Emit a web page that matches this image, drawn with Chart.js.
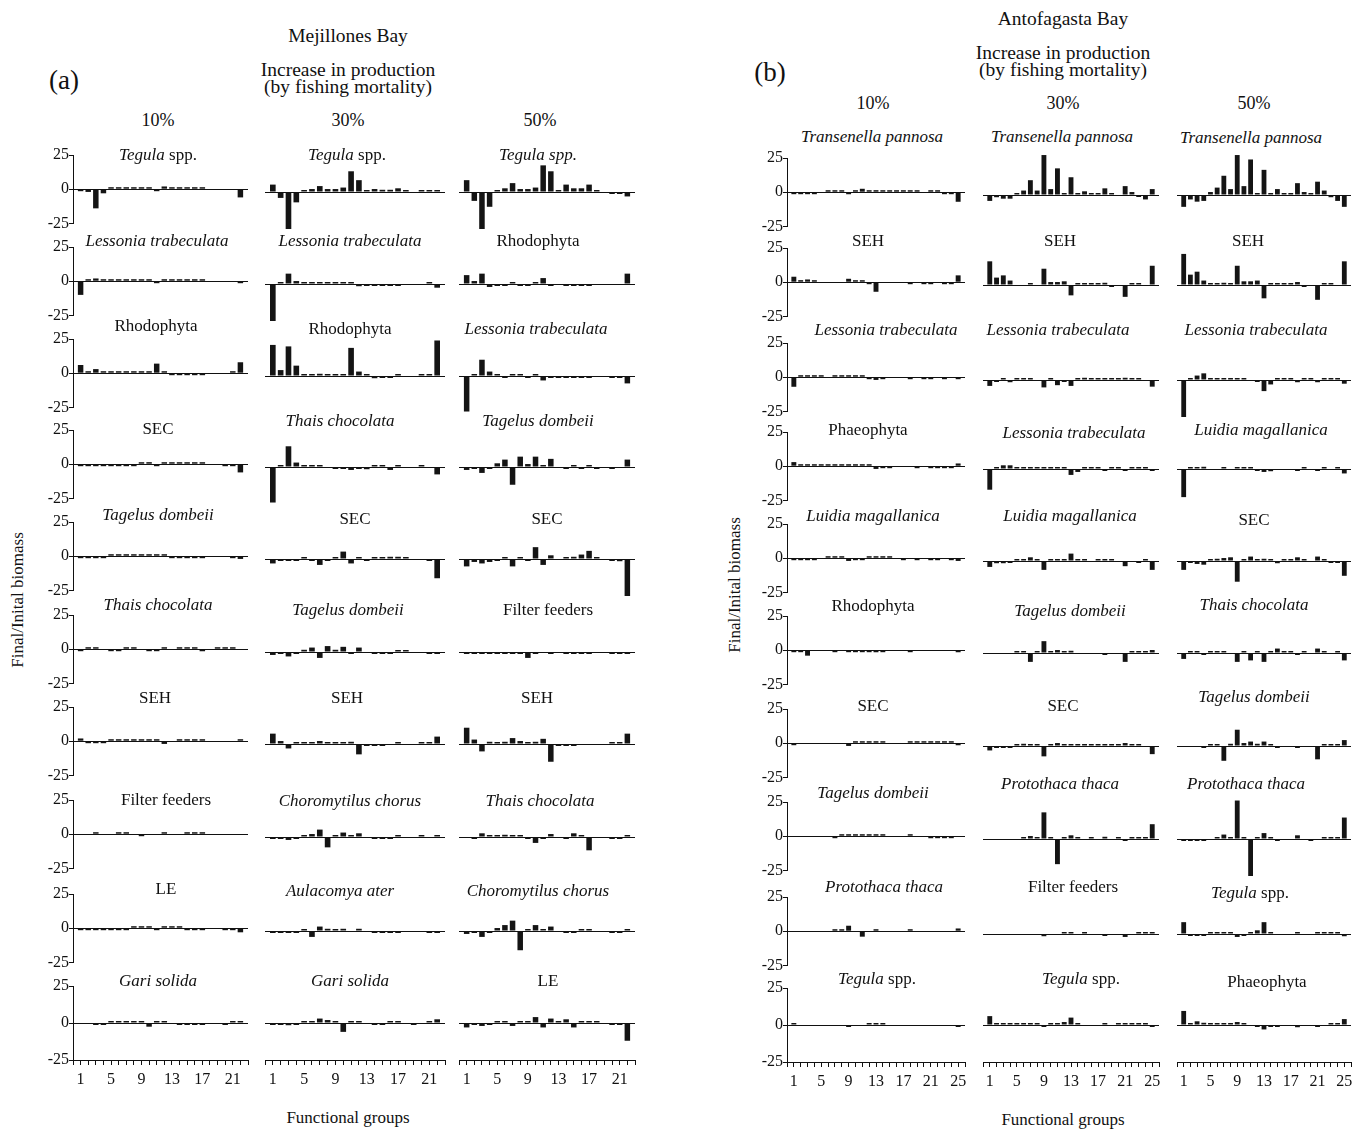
<!DOCTYPE html>
<html>
<head>
<meta charset="utf-8">
<script src="https://cdn.jsdelivr.net/npm/chart.js@4.4.1/dist/chart.umd.min.js"></script>
<style>
body { margin: 0; background: #fff; }
#page { position: relative; width: 1365px; height: 1129px; overflow: hidden; font-family: 'Liberation Serif', 'Times New Roman', serif; color: #111; }
#page canvas { position: absolute; }
.t { position: absolute; transform: translate(-50%, -50%); white-space: nowrap; z-index: 2; }
.sub { font-size: 17px; }
.hd { font-size: 19.5px; text-align: center; line-height: 17px; }
.pc { font-size: 18px; }
.lab { font-size: 27px; }
.ax { font-size: 17px; }
.rot { transform: translate(-50%, -50%) rotate(-90deg); }
</style>
</head>
<body>
<div id="page"></div>
<script>
// Mejillones Bay (a), 22 functional groups
const mej10Titles = ['<i>Tegula</i> spp.', '<i>Lessonia trabeculata</i>', 'Rhodophyta', 'SEC', '<i>Tagelus dombeii</i>',
	'<i>Thais chocolata</i>', 'SEH', 'Filter feeders', 'LE', '<i>Gari solida</i>'];
const mej10 = [
	[-1, -2, -14, -3, 0.5, 0.5, 0.5, 0.5, 0.5, 0.5, -1, 2, 0.5, 0.5, 0.5, 0.5, 0.5, 0, 0, 0, 0, -6],
	[-10, 0.5, 2, 0.5, 0.5, 0.5, 0.5, 0.5, 0.5, 0.5, -0.5, 0.5, 0.5, 0.5, 0.5, 0.5, 0.5, 0, 0, 0, 0, -1],
	[6, 1, 3, 1, 0.5, 0.5, 0.5, 0.5, 0.5, 0.5, 7, 1, -0.5, -0.5, -0.5, -0.5, -0.5, 0, 0, 0, 0.5, 8],
	[-1, -0.5, -0.5, -0.5, -0.5, -0.5, -1, -0.5, 0.5, 1.5, -1, 0.5, 0.5, 0.5, 0.5, 1, 0.5, 0, 0, -0.5, -0.5, -6],
	[-0.5, -0.5, -1, -0.5, 0.5, 0.5, 0.5, 1, 0.5, 1, 0.5, 0.5, -0.5, -0.5, -0.5, -0.5, -0.5, 0, 0, 0, -0.5, -2],
	[-0.5, 0.5, 0.5, 0, -0.5, -0.5, 0.5, 0.5, 0, -1, -0.5, 0.5, 0, 0.5, 0.5, 0.5, -1.5, 0, 0.5, 0.5, 0.5, 0],
	[2, -0.5, -1, -0.5, 0.5, 0.5, 0.5, 0.5, 0.5, 0.5, 0.5, -2, 0, 0.5, 0.5, 0.5, 0.5, 0, 0, 0, 0, 0.5],
	[0, 0, 0.5, 0, 0, 0.5, 0.5, 0, -0.5, 0, 0, 0.5, 0, 0, 0.5, 0.5, 0.5, 0, 0, 0, 0, 0],
	[-0.5, -0.5, -0.5, -0.5, -0.5, -0.5, -0.5, 0.5, 0.5, 1, -0.5, 0.5, 0.5, 0.5, -0.5, -0.5, -0.5, 0, 0, -0.5, -0.5, -3],
	[0, 0, -0.5, -0.5, 0.5, 0.5, 1, 0.5, 0.5, -2.5, 0.5, 0.5, 0, -0.5, -0.5, -0.5, -0.5, 0, 0, -0.5, 0.5, 0.5],
];
const mej30Titles = ['<i>Tegula</i> spp.', '<i>Lessonia trabeculata</i>', 'Rhodophyta', '<i>Thais chocolata</i>', 'SEC',
	'<i>Tagelus dombeii</i>', 'SEH', '<i>Choromytilus chorus</i>', '<i>Aulacomya ater</i>', '<i>Gari solida</i>'];
const mej30 = [
	[5, -4, -25, -7, 0.5, 2, 4, 2, 2, 3, 14, 8, 0.5, 2, 1.5, 1.5, 2.5, 0.5, 0, 0.5, 0.5, 0.5],
	[-25, 1, 7, 2, 0.5, 0.5, 0.5, 0.5, 0.5, 0.5, 0.5, -1.5, -0.5, -0.5, -0.5, -0.5, -0.5, 0, 0, 0, 0.5, -2.5],
	[21, 4, 20, 7, 1, 1, 1.5, 1, 0.5, 1, 19, 3, 0.5, -1.5, -1, -0.5, 0.5, 0, 0, 0.5, 0.5, 24],
	[-24, 1, 14, 3, 1, 0.5, 0.5, 0, -1, -0.5, -2, -0.5, -1.5, 0.5, 0.5, -2, 0.5, 0, 0, 0.5, 0, -5],
	[-3, -0.5, -0.5, -0.5, 0.5, -0.5, -4, -0.5, 0.5, 5, -3, 1, -0.5, 1, 1, 1.5, 1.5, 0.5, 0, 0, -0.5, -13],
	[-2, -0.5, -3, -0.5, 1.5, 3, -4, 4, 1.5, 3.5, -0.5, 3, 0, -0.5, -0.5, -1, 0.5, 0.5, 0, 0, -0.5, -1],
	[7, 2, -3, 0.5, 1, 1, 2, 1, 0.5, 0.5, 1.5, -7, -0.5, -0.5, -0.5, 0, 0.5, 0, 0, 0.5, 0.5, 5],
	[-1, -0.5, -2, -0.5, 1, 2, 5, -7, 0.5, 3, 0.5, 2.5, 0, -1, -0.5, -0.5, 0.5, 0, 0, 0.5, 0, 0.5],
	[-0.5, -0.5, -1, -0.5, 0.5, -4, 3, 1.5, 0.5, 1.5, 0, 1.5, 0, -1, -0.5, -0.5, -0.5, 0, 0, 0, -0.5, -0.5],
	[-0.5, -0.5, -1.5, -0.5, 0.5, 1, 3, 2, 0.5, -6, 0.5, 1, 0, -0.5, -0.5, 0.5, 0.5, 0, -0.5, 0, 0.5, 2.5],
];
const mej50Titles = ['<i>Tegula spp.</i>', 'Rhodophyta', '<i>Lessonia trabeculata</i>', '<i>Tagelus dombeii</i>', 'SEC',
	'Filter feeders', 'SEH', '<i>Thais chocolata</i>', '<i>Choromytilus chorus</i>', 'LE'];
const mej50 = [
	[8, -6, -25, -10, 0.5, 2.5, 6, 2, 2, 3, 18, 14, 0.5, 5, 2.5, 2.5, 5, 0.5, 0, -0.5, -0.5, -3],
	[6, 2, 7, -2, -0.5, -0.5, 0.5, -0.5, -0.5, 0.5, 4, -1, 0, -0.5, -0.5, -0.5, -0.5, 0, 0, 0, 0, 7],
	[-24, 1, 11, 3, 0.5, -0.5, 0.5, 0.5, -0.5, 0.5, -3, -0.5, -1, -0.5, -0.5, -0.5, -0.5, 0, 0, -0.5, -0.5, -5],
	[-2, -1, -4, -1, 2.5, 5, -12, 7, 2, 7, 0.5, 5.5, 0, -1, 0.5, -1, 0.5, -0.5, 0, -0.5, 0, 5],
	[-5, -2, -3, -2, -0.5, 1, -5, 1, -1, 8, -4, 2.5, 0, 1, 1.5, 3, 5.5, 0.5, 0, -1, -1.5, -25],
	[-0.5, -0.5, -0.5, -0.5, -0.5, -0.5, -0.5, -0.5, -4, -0.5, 0, -0.5, 0, -0.5, -0.5, -1, -0.5, 0, 0, -0.5, -0.5, -0.5],
	[11, 3, -5, 1.5, 1, 1.5, 4, 2, 0.5, 1.5, 3.5, -12, -0.5, -0.5, -0.5, 0, 0, 0, 0, 0.5, 0.5, 7],
	[0, -0.5, 2.5, 1, 1, 1.5, 1, 0.5, -0.5, -4, -0.5, 2, 0, -0.5, 2.5, 1, -9, 0, 0, -0.5, -0.5, 0.5],
	[-2, -0.5, -4, -1, 2, 4, 7, -13, 0.5, 4, 0.5, 3, 0, -1, -0.5, 0.5, 0.5, 0, 0, -0.5, -0.5, 1],
	[-3, -1, -2, -1, 0.5, 0.5, -2, 1, 1, 4, -3, 3, 0.5, 2.5, -3, 0.5, 0.5, 0.5, 0, -0.5, -0.5, -12],
];

// Antofagasta Bay (b), 25 functional groups
const ant10Titles = ['<i>Transenella pannosa</i>', 'SEH', '<i>Lessonia trabeculata</i>', 'Phaeophyta', '<i>Luidia magallanica</i>',
	'Rhodophyta', 'SEC', '<i>Tagelus dombeii</i>', '<i>Protothaca thaca</i>', '<i>Tegula</i> spp.'];
const ant10 = [
	[-1, -0.5, -0.5, -0.5, 0, 0.5, 1, 0.5, -1.5, 0.5, 2.5, 0.5, 1.5, 0.5, 0.5, 0.5, 0.5, 1, 0.5, 0, 1, 0.5, -0.5, -0.5, -7],
	[4, 1.5, 2, 1, 0, 0, 0, 0, 2.5, 0.5, 0.5, -0.5, -7, 0, 0, 0, 0, -0.5, 0, -1, -0.5, 0, -0.5, -0.5, 5],
	[-7, 0.5, 0.5, 1, 0.5, 0, 0.5, 0.5, 0.5, 0.5, 0.5, -0.5, -2, -0.5, 0, 0, 0, -0.5, 0, -0.5, -0.5, 0, -0.5, 0, -0.5],
	[3, 0.5, 0.5, 0.5, 0.5, 0.5, 0.5, 0.5, 1, 0.5, 0.5, 0.5, -2, -0.5, -0.5, 0, 0, 0, -0.5, 0, -0.5, -0.5, -0.5, -0.5, 2],
	[-1, -0.5, -0.5, -0.5, 0, 0.5, 0.5, 0.5, -2, -0.5, -0.5, 0.5, 1, 0.5, 0.5, 0, -0.5, 0, -1, 0, -0.5, -0.5, 0, -0.5, -2],
	[-0.5, -0.5, -4, 0, 0, 0, -0.5, 0, -0.5, -0.5, -0.5, -0.5, -1.5, -0.5, 0, 0, 0, -0.5, 0, 0, 0, 0, 0, 0, -1.5],
	[-0.5, 0, 0, 0, 0, 0, 0, 0, -2, 0.5, 0.5, 0.5, 0.5, 0.5, 0, 0, 0, 0.5, 0.5, 0.5, 0.5, 0.5, 0.5, 0.5, -1.5],
	[0, 0, 0, 0, 0, 0, -0.5, 0.5, 0.5, 0.5, 0.5, 0.5, 0.5, 0.5, 0, 0, 0, 0.5, 0, 0, -1.5, -0.5, -0.5, -0.5, 0],
	[0, 0, 0, 0, 0, 0, 0.5, 0.5, 4, 0, -4, 0, 0.5, 0, 0, 0, 0, 0.5, 0, 0, 0, 0, 0, 0, 2],
	[0.5, 0, 0, 0, 0, 0, 0, 0, -0.5, 0, 0, 0.5, 1, 0.5, 0, 0, 0, 0, 0, 0, 0, 0, 0, 0, -0.5],
];
const ant30Titles = ['<i>Transenella pannosa</i>', 'SEH', '<i>Lessonia trabeculata</i>', '<i>Lessonia trabeculata</i>', '<i>Luidia magallanica</i>',
	'<i>Tagelus dombeii</i>', 'SEC', '<i>Protothaca thaca</i>', 'Filter feeders', '<i>Tegula</i> spp.'];
const ant30 = [
	[-4, -1.5, -2.5, -2.5, 1, 3, 10, 3, 27, 4, 18, 0.5, 12, 0.5, 2.5, 0.5, 0.5, 4.5, 0.5, 0, 6, 2, -0.5, -3, 4],
	[16, 5, 6.5, 3, 0, 0, 1, 0, 11, 2, 2, 2.5, -7, 1, 0.5, 0.5, 0.5, 1.5, -0.5, 0, -8, 0.5, 0.5, 0, 13],
	[-4, -0.5, 0.5, -1.5, 0.5, 0.5, 0.5, 0, -5, 0.5, -3.5, -0.5, -4, 0.5, 1.5, 0.5, 0.5, 0.5, 0.5, 0.5, 1.5, 0.5, 0.5, 0, -4.5],
	[-14, 1, 2.5, 2.5, 0.5, 0.5, 0.5, 0.5, 1, 0.5, 0.5, 0.5, -4, -2, 0.5, 0.5, 0.5, -1, 0.5, 0.5, -1, 0.5, 0.5, 0.5, -0.5],
	[-4, -1.5, -1.5, -0.5, 0.5, 1, 2.5, 0.5, -6, 0.5, 0.5, 0.5, 5, 0.5, 0.5, 0, 0.5, 0.5, 0.5, 0, -3.5, 0, -0.5, 0.5, -6],
	[0, 0, 0, 0, 0.5, 0.5, -6, 1, 8, 1, 2, 0.5, 1.5, 0, 0, 0, 0, -0.5, 0, 0, -6, 0.5, 0.5, 0.5, 2],
	[-3, -0.5, -1, -0.5, 1, 1.5, 1, 0.5, -7, 0.5, 2, 0.5, 0.5, 0.5, 0.5, 0.5, 0.5, 1, 0.5, 0.5, 2, 0.5, 0.5, 0, -5.5],
	[0, 0, 0, 0, 0, 0.5, 2, 0.5, 18, 0.5, -17, 0.5, 2.5, 0.5, 0, 0.5, 0, 1.5, 0, 0.5, -0.5, 0.5, 0.5, 0.5, 10],
	[0, 0, 0, 0, 0, 0, 0, 0, -1.5, 0, 0, 0.5, 1, 0, 0.5, 0, 0, -0.5, 0, 0, -2, 0, 0.5, 0.5, 0.5],
	[6, 0.5, 0.5, 1, 0.5, 0.5, 1, 0.5, -0.5, 0.5, 0.5, 2, 5, 1, 0, 0, 0, 0.5, 0, 0.5, 0.5, 0.5, 0.5, 0.5, -0.5],
];
const ant50Titles = ['<i>Transenella pannosa</i>', 'SEH', '<i>Lessonia trabeculata</i>', '<i>Luidia magallanica</i>', 'SEC',
	'<i>Thais chocolata</i>', '<i>Tagelus dombeii</i>', '<i>Protothaca thaca</i>', '<i>Tegula</i> spp.', 'Phaeophyta'];
const ant50 = [
	[-8, -3, -4.5, -4, 2, 5, 13, 4, 27, 6, 24, 0.5, 17, 0.5, 4, 0.5, 0.5, 8, 2, 0.5, 9, 3, -1.5, -4, -8],
	[21, 7, 9, 3, 0.5, 0.5, 1.5, 0.5, 13, 2.5, 2.5, 3, -9, 1, 0.5, 0.5, 0.5, 2, -1, 0, -10, 0.5, 0.5, 0, 16],
	[-25, 1, 3, 4.5, 0.5, 0.5, 0.5, 0.5, 1, 0.5, 0, -1, -7.5, -3, 0.5, 0.5, 0.5, -1.5, 0.5, 0.5, -1.5, 0.5, 0.5, 0.5, -2.5],
	[-19, 0.5, 1, 1.5, 0, 0, 0.5, 0, 0.5, 0.5, 0.5, -0.5, -2, -1.5, 0, 0, 0, -0.5, 0.5, 0, -0.5, 0.5, 0, 0.5, -3],
	[-6, -1, -2, -2.5, 0.5, 1.5, 2, 2.5, -14, 0.5, 3, 0.5, 1.5, 0.5, -1.5, 0.5, 0.5, 2.5, 0.5, 0, 3, 0.5, -0.5, -0.5, -10],
	[-4, 0.5, 0.5, -1, 0.5, 0.5, 0.5, 0, -6, 1, -5, 1, -6, 0.5, 3, 0.5, 0.5, -0.5, 0.5, 0, 3, 0.5, 0, 0.5, -5],
	[0, 0, 0, -0.5, 0.5, 1, -10, 1.5, 11, 2, 3, 1.5, 3, 0.5, -1, 0, 0, -1, 0, 0, -9, 0.5, 0.5, 0.5, 4],
	[-0.5, -0.5, -0.5, -0.5, 0, 1, 3, 1, 26, 1, -25, 0.5, 4, 0.5, -0.5, 0, 0, 2.5, 0, -0.5, 0, 0.5, 0.5, 0.5, 14.5],
	[8, -1, -0.5, -0.5, 0.5, 0.5, 1, 0.5, -2, -0.5, 0.5, 2.5, 8, 1, 0, 0, 0, 0.5, 0, 0, 0.5, 0.5, 0.5, 0.5, -1.5],
	[9.5, 1, 2.5, 1.5, 0.5, 0.5, 0.5, 0.5, 2, 0.5, 0, -0.5, -3, -0.5, -0.5, 0, 0, -1.5, 0, 0, -1, 0, 0.5, 0.5, 4],
];

// layout (pixels)
const HALF = 37;
const mejZero = [192, 284, 376, 467, 559, 652, 744, 837, 931, 1023];
const antZero = [195, 285, 380, 469, 561, 653, 746, 839, 934, 1025];
const mejCols = [{left: 73, width: 175}, {left: 265, width: 180}, {left: 459, width: 176}];
const antCols = [{left: 787, width: 178}, {left: 983, width: 176}, {left: 1177, width: 174}];
const mejTitlePos = [
	[[158, 155], [157, 241], [156, 326], [158, 429], [158, 515], [158, 605], [155, 698], [166, 800], [166, 889], [158, 981]],
	[[347, 155], [350, 241], [350, 329], [340, 421], [355, 519], [348, 610], [347, 698], [350, 801], [340, 891], [350, 981]],
	[[538, 155], [538, 241], [536, 329], [538, 421], [547, 519], [548, 610], [537, 698], [540, 801], [538, 891], [548, 981]],
];
const antTitlePos = [
	[[872, 137], [868, 241], [886, 330], [868, 430], [873, 516], [873, 606], [873, 706], [873, 793], [884, 887], [877, 979]],
	[[1062, 137], [1060, 241], [1058, 330], [1074, 433], [1070, 516], [1070, 611], [1063, 706], [1060, 784], [1073, 887], [1081, 979]],
	[[1251, 138], [1248, 241], [1256, 330], [1261, 430], [1254, 520], [1254, 605], [1254, 697], [1246, 784], [1250, 893], [1267, 982]],
];

Chart.defaults.font.family = "'Liberation Serif', 'Times New Roman', serif";
Chart.defaults.color = '#111';
const page = document.getElementById('page');

const addText = (html, x, y, cls) => {
	const d = document.createElement('div');
	d.className = 't ' + cls;
	d.innerHTML = html;
	d.style.left = x + 'px';
	d.style.top = y + 'px';
	page.appendChild(d);
};

const makePlot = (vals, col, zero, n, showY, showX) => {
	const padL = 6, padR = 8, padT = 10, padB = 4;
	const yW = showY ? 30 : 0;
	const xH = showX ? 32 : 0;
	const c = document.createElement('canvas');
	c.width = padL + yW + col.width + padR;
	c.height = padT + HALF * 2 + xH + padB;
	c.style.left = (col.left - padL - yW) + 'px';
	c.style.top = (zero - HALF - padT) + 'px';
	page.appendChild(c);
	new Chart(c, {
		type: 'bar',
		data: {
			datasets: [{
				// zero means no bar at all
				data: vals.map((v, i) => ({x: i + 1, y: v === 0 ? null : v})),
				backgroundColor: '#141414',
				borderWidth: 0,
				barPercentage: 0.72,
				categoryPercentage: 1,
				minBarLength: 2,
				clip: false,
			}]
		},
		options: {
			responsive: false,
			animation: false,
			devicePixelRatio: 1,
			layout: {padding: {left: padL, right: padR, top: padT, bottom: padB}},
			plugins: {legend: {display: false}, tooltip: {enabled: false}},
			scales: {
				x: {
					type: 'linear', min: 0, max: n + 1, offset: false, display: showX,
					afterFit: (s) => { s.height = xH; },
					grid: {offset: false, drawOnChartArea: false, color: '#111', tickLength: 5},
					border: {color: '#111'},
					ticks: {
						stepSize: 1, autoSkip: false, maxRotation: 0, padding: 5, font: {size: 16},
						callback: (v) => (v > 0 && (v - 1) % 4 === 0) ? v : '',
					},
				},
				y: {
					min: -25, max: 25,
					afterFit: (s) => { s.width = yW; },
					border: {display: showY, color: '#111'},
					grid: {
						color: (ctx) => ctx.tick && ctx.tick.value === 0 ? '#111' : 'rgba(0,0,0,0)',
						tickColor: '#111', drawTicks: showY, tickLength: 4,
					},
					ticks: {display: showY, stepSize: 25, padding: 0, font: {size: 16}},
				},
			},
		},
	});
};

const drawPanel = (columns, titles, cols, zeros, titlePos, n) => {
	columns.forEach((rows, ci) => {
		rows.forEach((vals, ri) => {
			makePlot(vals, cols[ci], zeros[ri], n, ci === 0, ri === rows.length - 1);
			const [tx, ty] = titlePos[ci][ri];
			addText(titles[ci][ri], tx, ty, 'sub');
		});
	});
};

drawPanel([mej10, mej30, mej50], [mej10Titles, mej30Titles, mej50Titles], mejCols, mejZero, mejTitlePos, 22);
drawPanel([ant10, ant30, ant50], [ant10Titles, ant30Titles, ant50Titles], antCols, antZero, antTitlePos, 25);

// headings
addText('Mejillones Bay', 348, 35, 'hd');
addText('Increase in production<br>(by fishing mortality)', 348, 78, 'hd');
addText('(a)', 64, 80, 'lab');
addText('10%', 158, 120, 'pc');
addText('30%', 348, 120, 'pc');
addText('50%', 540, 120, 'pc');
addText('Final/Inital biomass', 18, 600, 'ax rot');
addText('Functional groups', 348, 1118, 'ax');

addText('Antofagasta Bay', 1063, 18, 'hd');
addText('Increase in production<br>(by fishing mortality)', 1063, 61, 'hd');
addText('(b)', 770, 72, 'lab');
addText('10%', 873, 103, 'pc');
addText('30%', 1063, 103, 'pc');
addText('50%', 1254, 103, 'pc');
addText('Final/Inital biomass', 735, 585, 'ax rot');
addText('Functional groups', 1063, 1120, 'ax');
</script>
</body>
</html>
